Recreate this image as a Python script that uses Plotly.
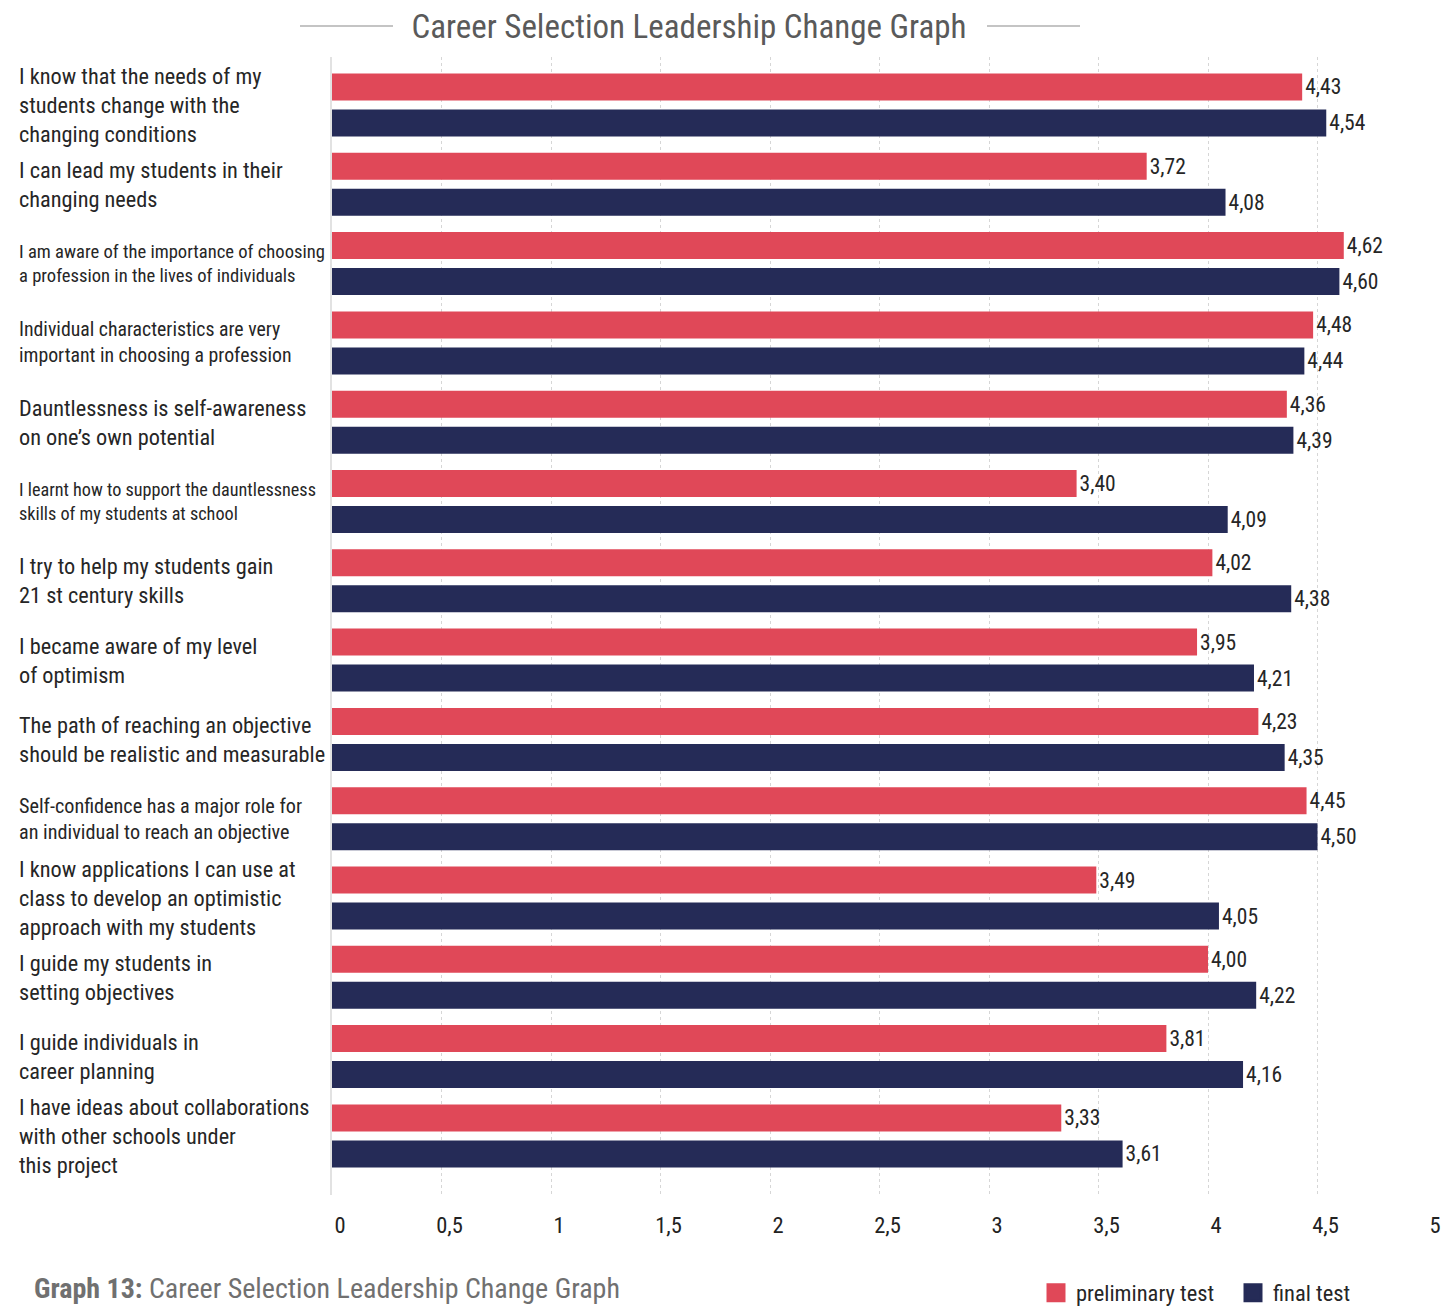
import plotly.graph_objects as go

# ---- data ----
statements = [
    "I know that the needs of my<br>students change with the<br>changing conditions",
    "I can lead my students in their<br>changing needs",
    "I am aware of the importance of choosing<br>a profession in the lives of individuals",
    "Individual characteristics are very<br>important in choosing a profession",
    "Dauntlessness is self-awareness<br>on one’s own potential",
    "I learnt how to support the dauntlessness<br>skills of my students at school",
    "I try to help my students gain<br>21 st century skills",
    "I became aware of my level<br>of optimism",
    "The path of reaching an objective<br>should be realistic and measurable",
    "Self-confidence has a major role for<br>an individual to reach an objective",
    "I know applications I can use at<br>class to develop an optimistic<br>approach with my students",
    "I guide my students in<br>setting objectives",
    "I guide individuals in<br>career planning",
    "I have ideas about collaborations<br>with other schools under<br>this project",
]
preliminary = [4.43, 3.72, 4.62, 4.48, 4.36, 3.40, 4.02, 3.95, 4.23, 4.45, 3.49, 4.00, 3.81, 3.33]
final = [4.54, 4.08, 4.60, 4.44, 4.39, 4.09, 4.38, 4.21, 4.35, 4.50, 4.05, 4.22, 4.16, 3.61]
tick_values = [0, 0.5, 1, 1.5, 2, 2.5, 3, 3.5, 4, 4.5, 5]
series_names = ["preliminary test", "final test"]

# ---- style ----
RED = "#E04858"
NAVY = "#252B57"
FONT = "Roboto Condensed, Liberation Sans Narrow, DejaVu Sans Condensed, Roboto, sans-serif"
TEXT = "#262626"
LABEL_SIZE = 22.3
# long statements are set a little smaller so they fit left of the bars
LABEL_SIZE_OVERRIDE = {2: 18.6, 3: 19.8, 5: 18.2, 9: 20.2}

W, H = 1445, 1310
L, R, T, B = 332, 18, 57, 115
PW, PH = W - L - R, H - T - B


def px_x(p):
    return (p - L) / PW


def px_y(p):
    return (H - B - p) / PH


fig = go.Figure()
for name, vals, col in [(series_names[0], preliminary, RED), (series_names[1], final, NAVY)]:
    fig.add_trace(go.Bar(
        y=statements, x=vals, orientation="h", name=name,
        marker=dict(color=col, line=dict(width=0)),
        texttemplate="%{x:.2f}", textposition="outside",
        textfont=dict(family=FONT, size=21.5, color=TEXT),
        cliponaxis=False, showlegend=False,
    ))
    # legend swatch
    fig.add_trace(go.Scatter(
        x=[None], y=[None], mode="markers", name=name,
        marker=dict(symbol="square", size=16, color=col, line=dict(color=col, width=3)),
    ))

# statement labels, left aligned
for i, s in enumerate(statements):
    fig.add_annotation(
        x=px_x(17), xref="paper", y=s, yref="y",
        text=s, showarrow=False, xanchor="left", yanchor="middle", align="left",
        font=dict(family=FONT, size=LABEL_SIZE_OVERRIDE.get(i, LABEL_SIZE), color=TEXT),
    )

# title rules
for x0, x1 in [(300, 393), (987, 1080)]:
    fig.add_shape(type="line", xref="paper", yref="paper",
                  x0=px_x(x0), x1=px_x(x1), y0=px_y(26), y1=px_y(26),
                  line=dict(color="#b0b0b0", width=1.5))

fig.add_annotation(
    x=px_x(32), xref="paper", y=px_y(1288), yref="paper",
    text="<b>Graph 13:</b> Career Selection Leadership Change Graph",
    showarrow=False, xanchor="left", yanchor="middle",
    font=dict(family=FONT, size=28, color="#707070"),
)

fig.update_layout(
    width=W, height=H,
    margin=dict(l=L, r=R, t=T, b=B, autoexpand=False),
    paper_bgcolor="white", plot_bgcolor="white",
    separators=",.",
    barmode="group", bargap=0.092, bargroupgap=0.25,
    title=dict(text="Career Selection Leadership Change Graph",
               x=689 / W, xanchor="center", xref="container",
               y=1 - 26 / H, yanchor="middle", yref="container",
               font=dict(family=FONT, size=33, color="#5a5a5a")),
    legend=dict(orientation="h", x=px_x(1036), xanchor="left",
                y=px_y(1293), yanchor="middle",
                font=dict(family=FONT, size=22.5, color=TEXT),
                entrywidth=152, entrywidthmode="pixels",
                bgcolor="rgba(0,0,0,0)"),
    xaxis=dict(range=[0, 5], tickvals=tick_values, showgrid=True,
               gridcolor="#d6d6d6", griddash="dot", gridwidth=1,
               zeroline=False, showline=False, ticks="",
               ticklabelshift=8, ticklabelstandoff=14,
               tickfont=dict(family=FONT, size=22.5, color="#222")),
    yaxis=dict(range=[13.745, -0.605], showticklabels=False, showgrid=False,
               showline=True, linecolor="#e2e2e2", linewidth=1.5, ticks="",
               zeroline=False),
)

fig.write_html("out.html")
